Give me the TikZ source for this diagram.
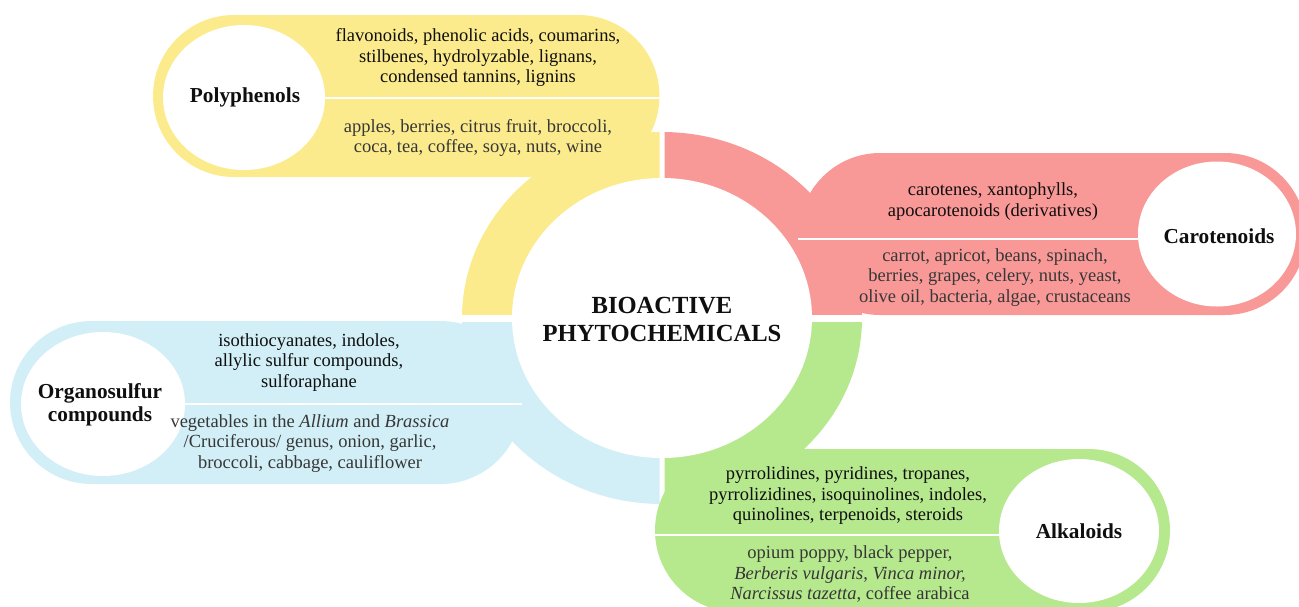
\documentclass[tikz,border=0pt]{standalone}
\usepackage{fontspec}
\setmainfont{Liberation Serif}
\definecolor{cyel}{RGB}{252,235,140}
\definecolor{cred}{RGB}{249,153,151}
\definecolor{cblu}{RGB}{210,239,247}
\definecolor{cgrn}{RGB}{182,232,142}
\definecolor{ctxt}{RGB}{15,15,15}
\definecolor{csub}{RGB}{55,55,55}
\begin{document}
\begin{tikzpicture}[x=1pt,y=-1pt,
  body/.style={font=\fontsize{18.5}{20.5}\selectfont, align=center, text=ctxt, inner sep=0pt},
  sub/.style={body, text=csub},
  lab/.style={font=\bfseries\fontsize{21.3}{23}\selectfont, align=center, inner sep=0pt, text=ctxt},
  hub/.style={font=\bfseries\fontsize{24.6}{28}\selectfont, align=center, inner sep=0pt, text=ctxt},
  sepline/.style={draw=white, line width=1.3pt},
  hole/.style={fill=white}]
\useasboundingbox (0,0) rectangle (1299,606);
\clip (0,0) rectangle (1299,606);
% ring quadrants
\begin{scope}\clip (0,0) rectangle (659.5,314);
  \fill[cyel] (662,318) ellipse [x radius=200, y radius=186];\end{scope}
\begin{scope}\clip (664.5,0) rectangle (1299,314.5);
  \fill[cred] (662,318) ellipse [x radius=200, y radius=186];\end{scope}
\begin{scope}\clip (0,322) rectangle (659.5,606);
  \fill[cblu] (662,318) ellipse [x radius=200, y radius=186];\end{scope}
\begin{scope}\clip (664.5,322.5) rectangle (1299,606);
  \fill[cgrn] (662,318) ellipse [x radius=200, y radius=186];\end{scope}
% pills
\fill[cyel, rounded corners=81pt] (153,15) rectangle (659.5,177);
\fill[cred, rounded corners=81pt] (799,153) rectangle (1306,315);
\fill[cblu, rounded corners=81.5pt] (10,321) rectangle (522,484);
\fill[cgrn, rounded corners=81.5pt] (655,449) rectangle (1170,612);
% central hole
\fill[hole] (662,318) ellipse [x radius=150, y radius=140];
% label holes
\fill[hole] (244,97.5) ellipse [x radius=81, y radius=72.5];
\fill[hole] (1217,234) ellipse [x radius=79, y radius=72.5];
\fill[hole] (103,404) ellipse [x radius=82, y radius=72];
\fill[hole] (1079,531) ellipse [x radius=80, y radius=72];
% separators
\coordinate (ys) at (325,98);  \coordinate (ye) at (659,98);
\coordinate (rs) at (798,239); \coordinate (re) at (1138,239);
\coordinate (bs) at (185,404); \coordinate (be) at (522,404);
\coordinate (gs) at (655,535); \coordinate (ge) at (1000,535);
\draw[sepline] (ys) -- (ye);
\draw[sepline] (rs) -- (re);
\draw[sepline] (bs) -- (be);
\draw[sepline] (gs) -- (ge);
% hub
\node[hub] (hub) at (662,319) {BIOACTIVE\\PHYTOCHEMICALS};
% labels
\node[lab] (poly) at (245,97) {Polyphenols};
\node[lab] (caro) at (1219,236) {Carotenoids};
\node[lab] (orga) at (100,405) {Organosulfur\\compounds};
\node[lab] (alka) at (1079,531) {Alkaloids};
% texts
\node[body] (p1) at (478,57.5) {flavonoids, phenolic acids, coumarins,\\stilbenes, hydrolyzable, lignans,\\condensed tannins, lignins};
\node[sub] (p2) at (478,138) {apples, berries, citrus fruit, broccoli,\\coca, tea, coffee, soya, nuts, wine};
\node[body] (c1) at (993,201.5) {carotenes, xantophylls,\\apocarotenoids (derivatives)};
\node[sub] (c2) at (995,277.5) {carrot, apricot, beans, spinach,\\berries, grapes, celery, nuts, yeast,\\olive oil, bacteria, algae, crustaceans};
\node[body] (o1) at (309,362.5) {isothiocyanates, indoles,\\allylic sulfur compounds,\\sulforaphane};
\node[sub] (o2) at (310,443.5) {vegetables in the \textit{Allium} and \textit{Brassica}\\/Cruciferous/ genus, onion, garlic,\\broccoli, cabbage, cauliflower};
\node[body] (a1) at (848,496) {pyrrolidines, pyridines, tropanes,\\pyrrolizidines, isoquinolines, indoles,\\quinolines, terpenoids, steroids};
\node[sub] (a2) at (850,574) {opium poppy, black pepper,\\\textit{Berberis vulgaris}, \textit{Vinca minor,}\\\textit{Narcissus tazetta}, coffee arabica};
\end{tikzpicture}
\end{document}
